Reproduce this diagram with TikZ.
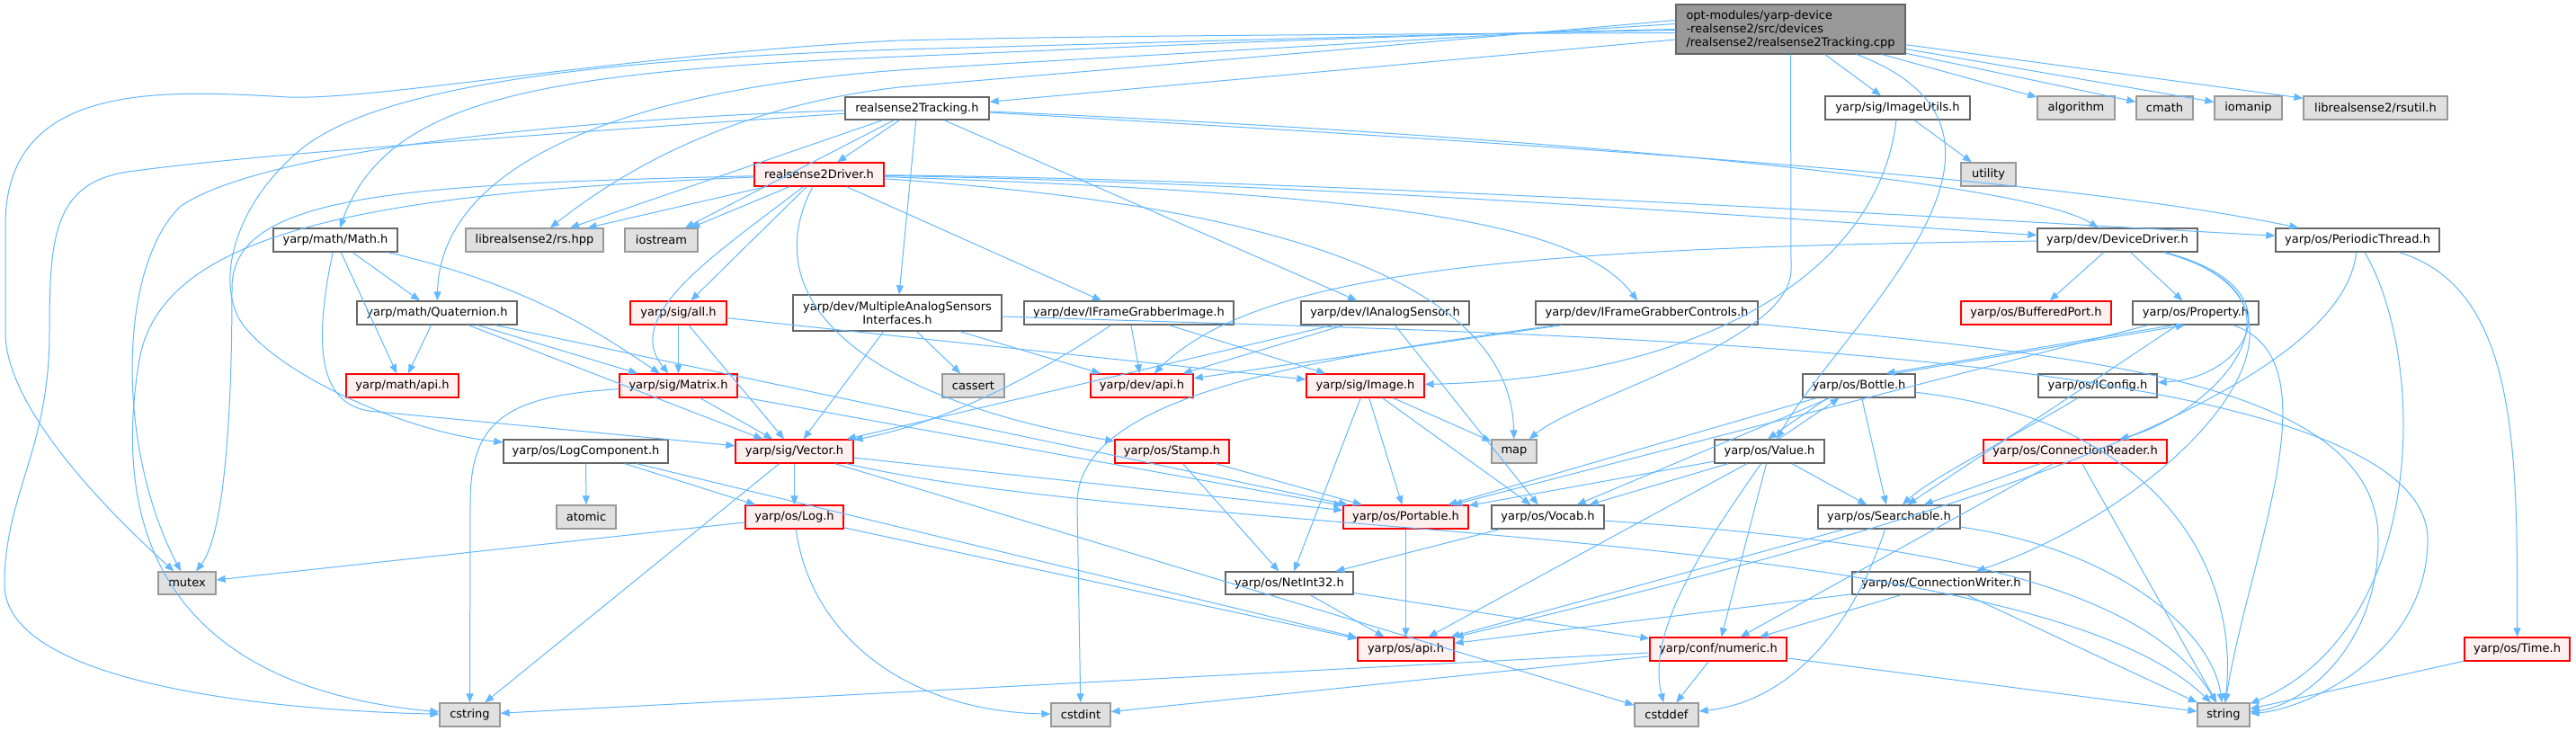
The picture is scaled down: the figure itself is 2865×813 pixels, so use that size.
\documentclass[tikz,border=0pt]{standalone}
\usepackage{fontspec}
\setmainfont{DejaVu Sans}
\usetikzlibrary{arrows.meta}
\definecolor{edgec}{HTML}{63B8FF}
\definecolor{grA}{HTML}{666666}
\definecolor{grB}{HTML}{999999}
\definecolor{grF}{HTML}{E0E0E0}
\definecolor{rdF}{HTML}{FFF0F0}
\tikzset{
  base/.style={draw, line width=1.3pt, inner sep=0pt, font=\fontsize{13}{15}\selectfont, text=black},
  wn/.style={base, draw=grA, fill=white},
  rn/.style={base, draw=red, fill=rdF},
  gn/.style={base, draw=grB, fill=grF},
  tn/.style={base, draw=grA, fill=grB, align=left},
  e/.style={draw=edgec, line width=1pt, -{Triangle[length=10pt,width=8pt]}},
}
\newcommand{\nd}[7]{\node[#2, minimum width=#5pt, minimum height=#6pt] (#1) at (#3,#4) {#7};}
\begin{document}
\begin{tikzpicture}[x=1pt,y=-1pt]
\useasboundingbox (0,0) rectangle (2865,813);
\fill[white] (0,0) rectangle (2865,813);
% nodes
\nd{cpp}{tn}{1991.5}{32.5}{255}{55}{opt-modules/yarp-device\\-realsense2/src/devices\\/realsense2/realsense2Tracking.cpp}
\nd{trk}{wn}{1020}{120.5}{160}{25}{realsense2Tracking.h}
\nd{imgutils}{wn}{2110.5}{120}{161}{26}{yarp/sig/ImageUtils.h}
\nd{algorithm}{gn}{2309}{120}{86}{26}{algorithm}
\nd{cmath}{gn}{2407.5}{120}{63}{26}{cmath}
\nd{iomanip}{gn}{2500.5}{120}{75}{26}{iomanip}
\nd{rsutil}{gn}{2642}{120}{160}{26}{librealsense2/rsutil.h}
\nd{utility}{gn}{2211.5}{194}{61}{26}{utility}
\nd{drv}{rn}{911}{194}{144}{26}{realsense2Driver.h}
\nd{math}{wn}{373}{267}{138}{26}{yarp/math/Math.h}
\nd{rshpp}{gn}{594.5}{267}{153}{26}{librealsense2/rs.hpp}
\nd{iostream}{gn}{735.5}{267}{81}{26}{iostream}
\nd{devdrv}{wn}{2355}{267}{178}{26}{yarp/dev/DeviceDriver.h}
\nd{pthread}{wn}{2622}{267}{182}{26}{yarp/os/PeriodicThread.h}
\nd{quat}{wn}{486}{348}{178}{26}{yarp/math/Quaternion.h}
\nd{all}{rn}{754.5}{348}{107}{26}{yarp/sig/all.h}
\node[wn, minimum width=232pt, minimum height=40pt, align=center] (multi) at (998,348) {yarp/dev/MultipleAnalogSensors\\Interfaces.h};
\nd{ifgi}{wn}{1255.5}{348}{233}{26}{yarp/dev/IFrameGrabberImage.h}
\nd{ianalog}{wn}{1540.5}{348}{187}{26}{yarp/dev/IAnalogSensor.h}
\nd{ifgc}{wn}{1831.5}{348}{247}{26}{yarp/dev/IFrameGrabberControls.h}
\nd{bport}{rn}{2264.5}{348}{167}{26}{yarp/os/BufferedPort.h}
\nd{prop}{wn}{2442}{348}{140}{26}{yarp/os/Property.h}
\nd{mathapi}{rn}{447.5}{429}{125}{26}{yarp/math/api.h}
\nd{matrix}{rn}{754.5}{429}{131}{26}{yarp/sig/Matrix.h}
\nd{cassert}{gn}{1082.5}{429}{69}{26}{cassert}
\nd{devapi}{rn}{1270}{429}{114}{26}{yarp/dev/api.h}
\nd{image}{rn}{1518.5}{429}{131}{26}{yarp/sig/Image.h}
\nd{bottle}{wn}{2067.5}{429}{125}{26}{yarp/os/Bottle.h}
\nd{iconfig}{wn}{2333}{429}{132}{26}{yarp/os/IConfig.h}
\nd{logcomp}{wn}{651.5}{502}{183}{26}{yarp/os/LogComponent.h}
\nd{vector}{rn}{883.5}{502}{131}{26}{yarp/sig/Vector.h}
\nd{stamp}{rn}{1303.5}{502}{127}{26}{yarp/os/Stamp.h}
\nd{map}{gn}{1684}{502}{50}{26}{map}
\nd{value}{wn}{1968}{502}{122}{26}{yarp/os/Value.h}
\nd{creader}{rn}{2308}{502}{204}{26}{yarp/os/ConnectionReader.h}
\nd{atomic}{gn}{652}{575}{66}{26}{atomic}
\nd{log}{rn}{883.5}{575}{109}{26}{yarp/os/Log.h}
\nd{portable}{rn}{1563.5}{575}{139}{26}{yarp/os/Portable.h}
\nd{vocab}{wn}{1721.5}{575}{125}{26}{yarp/os/Vocab.h}
\nd{searchable}{wn}{2101}{575}{158}{26}{yarp/os/Searchable.h}
\nd{mutex}{gn}{208}{648.5}{64}{25}{mutex}
\nd{netint}{wn}{1434}{648.5}{142}{25}{yarp/os/NetInt32.h}
\nd{cwriter}{wn}{2159}{648.5}{198}{25}{yarp/os/ConnectionWriter.h}
\nd{osapi}{rn}{1563.5}{722}{107}{26}{yarp/os/api.h}
\nd{numeric}{rn}{1911}{722}{152}{26}{yarp/conf/numeric.h}
\nd{time}{rn}{2799.5}{722}{117}{26}{yarp/os/Time.h}
\nd{cstring}{gn}{522.5}{795}{67}{26}{cstring}
\nd{cstdint}{gn}{1202}{795}{66}{26}{cstdint}
\nd{cstddef}{gn}{1853.5}{795}{71}{26}{cstddef}
\nd{string}{gn}{2473}{795}{58}{26}{string}
% edges from cpp
\draw[e] (cpp) -- (trk);
\draw[e] (cpp) -- (imgutils);
\draw[e] (cpp) -- (algorithm);
\draw[e] (cpp) -- (cmath);
\draw[e] (cpp) -- (iomanip);
\draw[e] (cpp) -- (rsutil);
\draw[e] (cpp.west) .. controls (1500,40) and (1200,55) .. (1000,63) .. controls (600,80) and (430,110) .. (math);
\draw[e] ([yshift=6pt]cpp.west) .. controls (1500,50) and (1200,65) .. (1000,78) .. controls (700,100) and (490,180) .. (quat);
\draw[e] ([yshift=10pt]cpp.west) .. controls (1500,55) and (1200,80) .. (1000,97) .. controls (800,120) and (680,200) .. (rshpp);
\draw[e] ([yshift=-4pt]cpp.west) .. controls (1500,38) and (1200,40) .. (1000,45) .. controls (700,60) and (420,112) .. (320,108) .. controls (180,100) and (6,90) .. (6,250) -- (6,370) .. controls (6,450) and (110,560) .. (mutex);
\draw[e] ([yshift=-1pt]cpp.west) .. controls (1500,40) and (1200,50) .. (1000,55) .. controls (700,65) and (420,90) .. (330,170) .. controls (250,240) and (240,330) .. (275,367) .. controls (320,420) and (450,480) .. (logcomp);
\draw[e] (cpp) .. controls (2300,150) and (2050,360) .. (value);
\draw[e] (cpp.south) -- (1992,300) .. controls (1992,380) and (1760,440) .. (map);
% imgutils
\draw[e] (imgutils) -- (utility);
\draw[e] (imgutils) .. controls (2090,300) and (1900,420) .. (image);
% trk
\draw[e] (trk) -- (drv);
\draw[e] (trk) -- (rshpp);
\draw[e] (trk) -- (iostream);
\draw[e] (trk) -- (multi);
\draw[e] (trk) -- (ianalog);
\draw[e] (trk) .. controls (600,150) and (300,170) .. (150,190) .. controls (60,200) and (55,260) .. (55,370) .. controls (55,500) and (5,550) .. (5,650) .. controls (5,760) and (300,790) .. (cstring);
\draw[e] (trk) .. controls (700,130) and (300,160) .. (200,230) .. controls (130,300) and (130,500) .. (mutex);
\draw[e] (trk) .. controls (1700,150) and (2250,200) .. (devdrv);
\draw[e] (trk) .. controls (1800,165) and (2300,200) .. (pthread);
% drv
\draw[e] (drv) -- (rshpp);
\draw[e] (drv) -- (iostream);
\draw[e] (drv) -- (all);
\draw[e] (drv) -- (ifgi);
\draw[e] (drv) .. controls (800,280) and (690,350) .. (matrix);
\draw[e] (drv) .. controls (840,330) and (950,440) .. (stamp);
\draw[e] (drv) .. controls (1500,205) and (2000,245) .. (devdrv);
\draw[e] (drv) .. controls (1500,200) and (2300,250) .. (pthread);
\draw[e] (drv) .. controls (1500,215) and (1750,240) .. (ifgc);
\draw[e] (drv) .. controls (1300,220) and (1680,280) .. (map);
\draw[e] (drv) .. controls (450,205) and (258,215) .. (258,320) .. controls (258,500) and (245,600) .. (mutex);
\draw[e] (drv) .. controls (400,215) and (180,260) .. (155,400) .. controls (130,550) and (150,760) .. (cstring);
% math
\draw[e] (math) -- (quat);
\draw[e] (math) -- (mathapi);
\draw[e] (math) .. controls (600,320) and (680,380) .. (matrix);
\draw[e] (math) .. controls (345,400) and (360,455) .. (420,458) -- (vector);
% quat
\draw[e] (quat) -- (mathapi);
\draw[e] (quat) -- (matrix);
\draw[e] (quat) -- (vector);
\draw[e] (quat) -- (portable);
% all
\draw[e] (all) -- (matrix);
\draw[e] (all) -- (vector);
\draw[e] (all) -- (image);
% multi
\draw[e] (multi) -- (vector);
\draw[e] (multi) -- (cassert);
\draw[e] (multi) -- (devapi);
\draw[e] (multi) .. controls (1700,372) and (2700,380) .. (2700,600) .. controls (2700,730) and (2560,790) .. (string);
% ifgi
\draw[e] (ifgi) -- (devapi);
\draw[e] (ifgi) -- (image);
\draw[e] (ifgi) .. controls (1150,420) and (1050,470) .. (vector);
% ianalog
\draw[e] (ianalog) -- (devapi);
\draw[e] (ianalog) -- (vector);
\draw[e] (ianalog) -- (vocab);
% ifgc
\draw[e] (ifgc) -- (devapi);
\draw[e] (ifgc) .. controls (1450,400) and (1198,440) .. (1198,560) -- (cstdint);
\draw[e] (ifgc) .. controls (2300,395) and (2645,420) .. (2645,600) .. controls (2645,720) and (2560,785) .. (string);
% devdrv
\draw[e] (devdrv) .. controls (1700,275) and (1400,300) .. (devapi);
\draw[e] (devdrv) -- (bport);
\draw[e] (devdrv) -- (prop);
\draw[e] (devdrv) .. controls (2560,320) and (2500,420) .. (iconfig);
\draw[e] (devdrv) .. controls (2590,330) and (2460,460) .. (creader);
\draw[e] (devdrv) .. controls (2630,340) and (2420,560) .. (cwriter);
% pthread
\draw[e] (pthread) .. controls (2800,320) and (2800,500) .. (time);
\draw[e] (pthread) .. controls (2600,480) and (1900,640) .. (osapi);
\draw[e] (pthread) .. controls (2700,400) and (2700,700) .. (string);
% prop
\draw[e] ([xshift=-25pt]prop.south) -- ([xshift=30pt]bottle.north);
\draw[e] ([xshift=40pt]bottle.north) -- ([xshift=-12pt]prop.south);
\draw[e] (prop) -- (searchable);
\draw[e] (prop) -- (portable);
\draw[e] (prop) .. controls (2600,400) and (2500,620) .. (string);
% bottle
\draw[e] ([xshift=-35pt]bottle.south) -- ([xshift=-2pt]value.north);
\draw[e] ([xshift=10pt]value.north) -- ([xshift=-22pt]bottle.south);
\draw[e] (bottle) -- (portable);
\draw[e] (bottle) -- (searchable);
\draw[e] (bottle) -- (vocab);
\draw[e] (bottle) .. controls (2420,470) and (2490,650) .. (string);
% value
\draw[e] (value) -- (portable);
\draw[e] (value) -- (vocab);
\draw[e] (value) -- (searchable);
\draw[e] (value) -- (numeric);
\draw[e] (value) -- (osapi);
\draw[e] (value) .. controls (1900,600) and (1830,700) .. (cstddef);
% iconfig, creader, searchable, cwriter
\draw[e] (iconfig) .. controls (2250,480) and (2150,530) .. (searchable);
\draw[e] (creader) -- (searchable);
\draw[e] (creader) -- (numeric);
\draw[e] (creader) -- (string);
\draw[e] (searchable) -- (osapi);
\draw[e] (searchable) .. controls (2060,700) and (1990,780) .. (cstddef);
\draw[e] (searchable) .. controls (2350,610) and (2460,700) .. (string);
\draw[e] (cwriter) -- (numeric);
\draw[e] (cwriter) -- (osapi);
\draw[e] (cwriter) -- (string);
% logcomp
\draw[e] (logcomp) -- (atomic);
\draw[e] (logcomp) -- (log);
\draw[e] (logcomp) -- (osapi);
% vector
\draw[e] (vector) -- (log);
\draw[e] (vector) -- (cstring);
\draw[e] (vector) -- (cstddef);
\draw[e] (vector) -- (portable);
\draw[e] (vector) .. controls (1300,600) and (2250,580) .. (string);
% matrix
\draw[e] (matrix) -- (vector);
\draw[e] (matrix) .. controls (560,440) and (523,470) .. (523,560) -- (cstring);
\draw[e] (matrix) -- (portable);
% log
\draw[e] (log) -- (mutex);
\draw[e] (log) -- (osapi);
\draw[e] (log) .. controls (900,700) and (1000,790) .. (cstdint);
% stamp, image, vocab, netint, portable
\draw[e] (stamp) -- (portable);
\draw[e] (stamp) -- (netint);
\draw[e] (image) -- (map);
\draw[e] (image) -- (portable);
\draw[e] (image) -- (vocab);
\draw[e] (image) -- (netint);
\draw[e] (vocab) -- (netint);
\draw[e] (vocab) .. controls (2100,600) and (2380,640) .. (string);
\draw[e] (netint) -- (osapi);
\draw[e] (netint) -- (numeric);
\draw[e] (portable) -- (osapi);
% numeric, time
\draw[e] (numeric) -- (cstring);
\draw[e] (numeric) -- (cstdint);
\draw[e] (numeric) -- (cstddef);
\draw[e] (numeric) -- (string);
\draw[e] (time) -- (string);
\end{tikzpicture}
\end{document}
